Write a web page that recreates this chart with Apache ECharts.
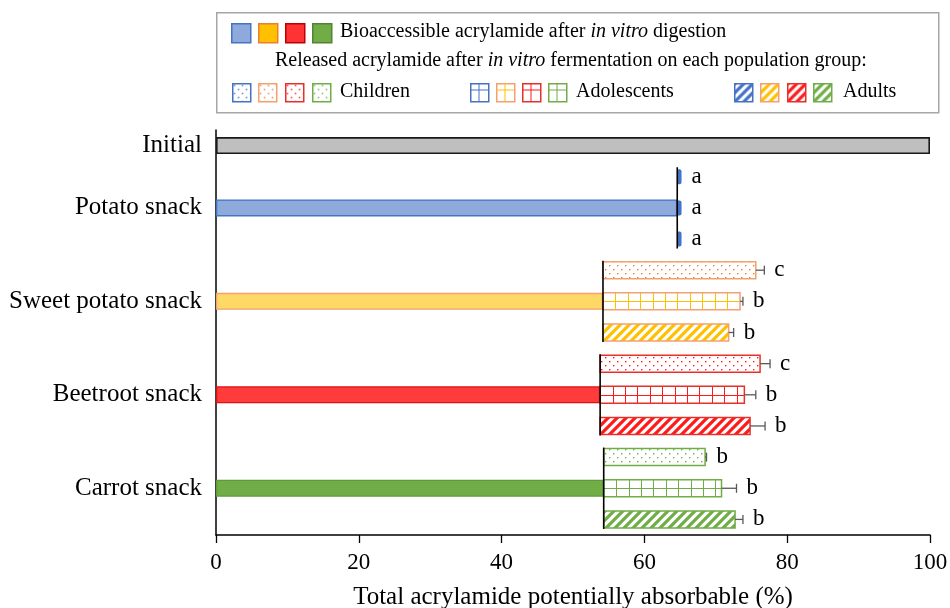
<!DOCTYPE html>
<html>
<head>
<meta charset="utf-8">
<script src="https://cdn.jsdelivr.net/npm/echarts@6/dist/echarts.min.js"></script>
<style>
  html, body { margin: 0; padding: 0; background: #ffffff; }
  #chart { width: 950px; height: 608px; }
</style>
</head>
<body>
<div id="chart"></div>
<script>
// ---- data ----
const snacks = ['Potato snack', 'Sweet potato snack', 'Beetroot snack', 'Carrot snack'];
const groups = ['Children', 'Adolescents', 'Adults'];
const initialLabel = 'Initial';
const initialValue = 100;
// bioaccessible acrylamide after in vitro digestion (%)
const digestion = [64.6, 54.2, 53.8, 54.3];
// total (digestion + released after fermentation) per population group (%)
const childrenTotal = [65.2, 75.6, 76.2, 68.5];
const adolescentsTotal = [65.2, 73.4, 74.0, 70.8];
const adultsTotal = [65.2, 71.8, 74.8, 72.7];
// standard deviations
const childrenSd = [0, 1.2, 1.4, 0.2];
const adolescentsSd = [0, 0.4, 1.6, 2.1];
const adultsSd = [0, 0.7, 2.1, 1.1];
// significance letters
const childrenLetters = ['a', 'c', 'c', 'b'];
const adolescentsLetters = ['a', 'b', 'b', 'b'];
const adultsLetters = ['a', 'b', 'b', 'b'];
const xMin = 0, xMax = 100, xStep = 20;
const axisTitle = 'Total acrylamide potentially absorbable (%)';

// ---- styling ----
const FONT = "'Liberation Serif', 'Times New Roman', serif";
const snackFill = ['#8EA9DB', '#FFD966', '#FF3B3B', '#70AD47'];
const snackBorder = ['#4472C4', '#F4A070', '#E01010', '#5E9A3A'];
const patternColor = ['#4472C4', '#FFC000', '#FF1A1A', '#70AD47'];
const dotColor = ['#4472C4', '#ED7D31', '#FF1A1A', '#70AD47'];
const fermBorder = ['#4472C4', '#F4A070', '#E8302A', '#70AD47'];
const legendFill = ['#8EA9DB', '#FFC000', '#FF3333', '#70AD47'];
const legendBorder = ['#4472C4', '#ED7D31', '#C00000', '#548235'];
const BAR_H = 17;
const LEGEND_FONT = '20px ' + FONT;

function dotTile(color) {
  const c = document.createElement('canvas');
  c.width = 8; c.height = 8;
  const g = c.getContext('2d');
  g.fillStyle = '#ffffff'; g.fillRect(0, 0, 8, 8);
  g.fillStyle = color;
  g.fillRect(1, 1, 1.4, 1.4);
  g.fillRect(5, 5, 1.4, 1.4);
  return c;
}
function stripeTile(color) {
  const s = 9;
  const c = document.createElement('canvas');
  c.width = s; c.height = s;
  const g = c.getContext('2d');
  g.fillStyle = '#ffffff'; g.fillRect(0, 0, s, s);
  g.strokeStyle = color; g.lineWidth = 3.2; g.lineCap = 'square';
  g.beginPath();
  g.moveTo(-2, s + 2); g.lineTo(s + 2, -2);
  g.moveTo(-2, 2); g.lineTo(2, -2);
  g.moveTo(s - 2, s + 2); g.lineTo(s + 2, s - 2);
  g.stroke();
  return c;
}
const dotPatterns = dotColor.map(function (c) { return { image: dotTile(c), repeat: 'repeat' }; });
const stripePatterns = patternColor.map(function (c) { return { image: stripeTile(c), repeat: 'repeat' }; });

// ---- rows of the category axis ----
const rowKeys = [initialLabel];
const rowLabels = [initialLabel];
snacks.forEach(function (s) {
  rowKeys.push(s + '|' + groups[0], s + '|' + groups[1], s + '|' + groups[2]);
  rowLabels.push('', s, '');
});
function rowOf(si, gi) { return 1 + si * 3 + gi; }

// base bars: initial + digestion (visible on the middle row of each snack)
const baseData = rowKeys.map(function () { return '-'; });
baseData[0] = { value: initialValue, itemStyle: { color: '#BFBFBF', borderColor: '#1a1a1a', borderWidth: 1.6 } };
snacks.forEach(function (s, i) {
  baseData[rowOf(i, 1)] = { value: digestion[i], itemStyle: { color: snackFill[i], borderColor: snackBorder[i], borderWidth: 1.3 } };
});

const totals = [childrenTotal, adolescentsTotal, adultsTotal];
const sds = [childrenSd, adolescentsSd, adultsSd];
const letters = [childrenLetters, adolescentsLetters, adultsLetters];

const fermData = [];
const errData = [];
snacks.forEach(function (s, i) {
  groups.forEach(function (g, gi) {
    fermData.push([rowOf(i, gi), digestion[i], totals[gi][i], i, gi]);
    errData.push([rowOf(i, gi), totals[gi][i], totals[gi][i] + sds[gi][i], letters[gi][i]]);
  });
});
const refLineData = snacks.map(function (s, i) { return [digestion[i], rowOf(i, 0), rowOf(i, 2)]; });

function renderFerment(params, api) {
  const row = api.value(0), start = api.value(1), end = api.value(2);
  const si = api.value(3), gi = api.value(4);
  const a = api.coord([start, row]);
  const b = api.coord([end, row]);
  const x = a[0], w = b[0] - a[0], y = a[1] - BAR_H / 2, h = BAR_H;
  const kids = [];
  if (w < 6) {
    kids.push({ type: 'rect', shape: { x: x, y: y + 1, width: w, height: h - 2, r: [0, 2, 2, 0] }, style: { fill: patternColor[si] } });
    return { type: 'group', children: kids };
  }
  let fill = '#ffffff';
  if (gi === 0) fill = dotPatterns[si];
  if (gi === 2) fill = stripePatterns[si];
  kids.push({ type: 'rect', shape: { x: x, y: y, width: w, height: h }, style: { fill: fill } });
  if (gi === 1) {
    for (let k = 1; x + k * 12.4 < x + w - 2; k++) {
      const lx = Math.round(x + k * 12.4) + 0.5;
      kids.push({ type: 'line', shape: { x1: lx, y1: y, x2: lx, y2: y + h }, style: { stroke: patternColor[si], lineWidth: 1 } });
    }
    const ly = Math.round(y + h / 2) + 0.5;
    kids.push({ type: 'line', shape: { x1: x, y1: ly, x2: x + w, y2: ly }, style: { stroke: patternColor[si], lineWidth: 1 } });
  }
  kids.push({ type: 'rect', shape: { x: x, y: y, width: w, height: h }, style: { fill: 'none', stroke: fermBorder[si], lineWidth: 1.5 } });
  return { type: 'group', children: kids };
}

function renderError(params, api) {
  const row = api.value(0), total = api.value(1), hi = api.value(2);
  const letter = errData[params.dataIndex][3];
  const a = api.coord([total, row]);
  const b = api.coord([hi, row]);
  const kids = [];
  if (b[0] - a[0] > 0.8) {
    kids.push({ type: 'line', shape: { x1: a[0], y1: a[1], x2: b[0], y2: b[1] }, style: { stroke: '#595959', lineWidth: 1.3 } });
    kids.push({ type: 'line', shape: { x1: b[0], y1: b[1] - 4.5, x2: b[0], y2: b[1] + 4.5 }, style: { stroke: '#595959', lineWidth: 1.3 } });
  }
  kids.push({ type: 'text', style: { text: letter, x: b[0] + 10, y: b[1], align: 'left', verticalAlign: 'middle', font: '23px ' + FONT, fill: '#000000' } });
  return { type: 'group', children: kids };
}

function renderRefLine(params, api) {
  const v = api.value(0), r0 = api.value(1), r1 = api.value(2);
  const a = api.coord([v, r0]);
  const b = api.coord([v, r1]);
  return { type: 'line', shape: { x1: a[0], y1: a[1] - BAR_H / 2 - 1, x2: b[0], y2: b[1] + BAR_H / 2 + 1 }, style: { stroke: '#000000', lineWidth: 1.6 } };
}

// ---- legend drawn as graphic elements ----
function legendSquare(x, y, s, fill, stroke) {
  return { type: 'rect', left: x, top: y, shape: { width: s, height: s }, style: { fill: fill, stroke: stroke, lineWidth: 1.5 } };
}
const legendItems = [];
legendItems.push({ type: 'rect', left: 216, top: 12, shape: { width: 722, height: 100 }, style: { fill: '#ffffff', stroke: '#A6A6A6', lineWidth: 1.5 } });
const topX = [231, 258, 285, 312];
topX.forEach(function (x, i) { legendItems.push(legendSquare(x, 23, 19, legendFill[i], legendBorder[i])); });
const richStyle = { n: { font: LEGEND_FONT, fill: '#000' }, i: { font: 'italic ' + LEGEND_FONT, fill: '#000' } };
legendItems.push({
  type: 'text', left: 340, top: 22,
  style: { text: '{n|Bioaccessible acrylamide after }{i|in vitro}{n| digestion}', rich: richStyle }
});
legendItems.push({
  type: 'text', left: 275, top: 51,
  style: { text: '{n|Released acrylamide after }{i|in vitro}{n| fermentation on each population group:}', rich: richStyle }
});
const groupSquareX = [[232, 258, 285, 312], [470, 496, 522, 548], [734, 760, 787, 813]];
const groupTextX = [340, 576, 843];
const sq = 18, sqY = 83;
groups.forEach(function (g, gi) {
  groupSquareX[gi].forEach(function (x, i) {
    let fill = '#ffffff';
    if (gi === 0) fill = dotPatterns[i];
    if (gi === 2) fill = stripePatterns[i];
    legendItems.push(legendSquare(x, sqY, sq, fill, fermBorder[i]));
    if (gi === 1) {
      legendItems.push({ type: 'line', shape: { x1: x + sq / 2, y1: sqY, x2: x + sq / 2, y2: sqY + sq }, style: { stroke: patternColor[i], lineWidth: 1 } });
      legendItems.push({ type: 'line', shape: { x1: x, y1: sqY + 7, x2: x + sq, y2: sqY + 7 }, style: { stroke: patternColor[i], lineWidth: 1 } });
    }
  });
  legendItems.push({ type: 'text', left: groupTextX[gi], top: 82, style: { text: g, font: LEGEND_FONT, fill: '#000' } });
});

const chart = echarts.init(document.getElementById('chart'), null, { renderer: 'canvas' });
chart.setOption({
  animation: false,
  backgroundColor: '#ffffff',
  grid: { left: 216, right: 20, top: 130, bottom: 73, containLabel: false, outerBoundsMode: 'none' },
  xAxis: {
    type: 'value', min: xMin, max: xMax, interval: xStep,
    axisLine: { show: true, lineStyle: { color: '#000', width: 1.5 } },
    axisTick: { show: true, length: 8, lineStyle: { color: '#000', width: 1.3 } },
    splitLine: { show: false },
    axisLabel: { color: '#000', fontFamily: FONT, fontSize: 23, margin: 16 },
    name: axisTitle, nameLocation: 'middle', nameGap: 50,
    nameTextStyle: { color: '#000', fontFamily: FONT, fontSize: 25 }
  },
  yAxis: {
    type: 'category', data: rowKeys, inverse: true,
    axisLine: { show: true, lineStyle: { color: '#000', width: 1.5 } },
    axisTick: { show: false },
    axisLabel: {
      color: '#000', fontFamily: FONT, fontSize: 25, margin: 14, interval: 0,
      formatter: function (v, idx) { return rowLabels[idx]; }
    }
  },
  graphic: legendItems,
  series: [
    { name: 'base', type: 'bar', data: baseData, barWidth: BAR_H, z: 2 },
    { name: 'fermentation', type: 'custom', renderItem: renderFerment, data: fermData, encode: { x: [1, 2], y: 0 }, z: 3 },
    { name: 'digestion line', type: 'custom', renderItem: renderRefLine, data: refLineData, encode: { x: 0, y: [1, 2] }, z: 4 },
    { name: 'error', type: 'custom', renderItem: renderError, data: errData, encode: { x: [1, 2], y: 0 }, z: 5 }
  ]
});
</script>
</body>
</html>
